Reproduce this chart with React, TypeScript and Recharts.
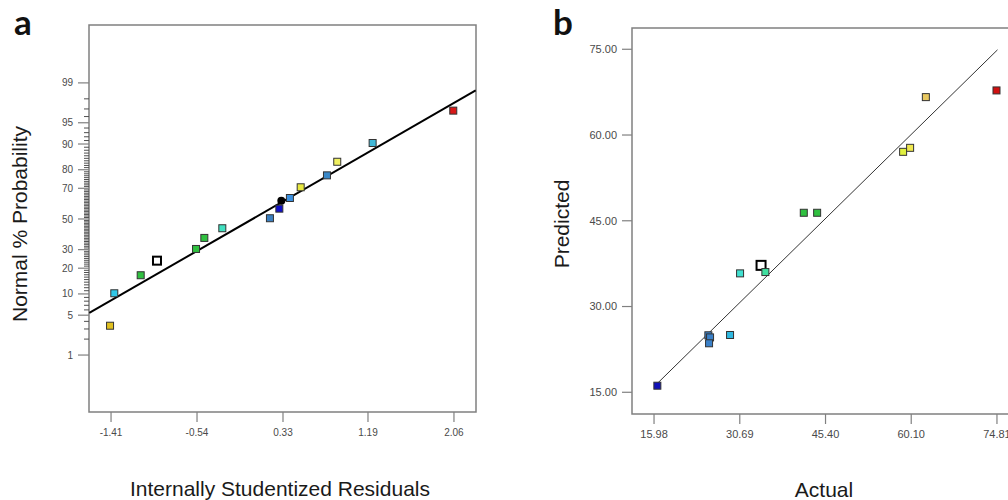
import React from "react";
import {
  ScatterChart,
  Scatter,
  XAxis,
  YAxis,
  ReferenceArea,
  ReferenceLine,
} from "recharts";

// panel a: normal probability plot of the residuals
const residuals = [-1.42, -1.377, -1.11, -0.945, -0.55, -0.466, -0.284, 0.198, 0.293, 0.313, 0.4, 0.509, 0.775, 0.879, 1.237, 2.053];
const normalProb = [3.4, 10.2, 16.8, 23.8, 30.4, 37.3, 43.7, 50.5, 57.0, 62.3, 64.0, 70.6, 77.2, 83.6, 90.3, 96.8];
const residualTicks = [-1.41, -0.54, 0.33, 1.19, 2.06];
const probTicks = [1, 5, 10, 20, 30, 50, 70, 80, 90, 95, 99];
const fitResidual = [-1.63, 2.28];
const fitProb = [5.4, 98.6];

// panel b: predicted vs actual
const actual = [16.55, 25.3, 25.59, 25.42, 29.02, 30.74, 34.34, 35.08, 41.67, 43.96, 58.71, 59.91, 62.61, 74.73];
const predicted = [16.15, 24.97, 24.6, 23.57, 25.02, 35.8, 37.2, 36.03, 46.4, 46.4, 57.06, 57.76, 66.63, 67.8];
const actualTicks = [15.98, 30.69, 45.4, 60.1, 74.81];
const predictedTicks = [15, 30, 45, 60, 75];
const parityLine = [16.4, 74.9];

// marker colours ("open" = hollow square, "dot" = black circle)
const colorsA = ["#E0C020", "#30C8E8", "#30C040", "open", "#30C040", "#30C040", "#40E0C0", "#3A7FC0", "#1010C8", "dot", "#3A90E0", "#E8E840", "#3A88C8", "#F0F060", "#40B8D8", "#D81818"];
const colorsB = ["#1010B8", "#3A80C8", "#3A80C8", "#3A80C8", "#30B8E0", "#40E0D0", "open", "#40E0A0", "#30C040", "#30C040", "#E0F040", "#F0E850", "#E8C860", "#D01010"];

// inverse normal cdf (Acklam)
function probit(p: number): number {
  const a = [-39.69683028665376, 220.9460984245205, -275.9285104469687, 138.357751867269, -30.66479806614716, 2.506628277459239];
  const b = [-54.47609879822406, 161.5858368580409, -155.6989798598866, 66.80131188771972, -13.28068155288572];
  const c = [-0.007784894002430293, -0.3223964580411365, -2.400758277161838, -2.549732539343734, 4.374664141464968, 2.938163982698783];
  const d = [0.007784695709041462, 0.3224671290700398, 2.445134137142996, 3.754408661907416];
  const pl = 0.02425;
  if (p < pl) {
    const q = Math.sqrt(-2 * Math.log(p));
    return (((((c[0] * q + c[1]) * q + c[2]) * q + c[3]) * q + c[4]) * q + c[5]) / ((((d[0] * q + d[1]) * q + d[2]) * q + d[3]) * q + 1);
  }
  if (p > 1 - pl) {
    const q = Math.sqrt(-2 * Math.log(1 - p));
    return -(((((c[0] * q + c[1]) * q + c[2]) * q + c[3]) * q + c[4]) * q + c[5]) / ((((d[0] * q + d[1]) * q + d[2]) * q + d[3]) * q + 1);
  }
  const q = p - 0.5;
  const r = q * q;
  return ((((((a[0] * r + a[1]) * r + a[2]) * r + a[3]) * r + a[4]) * r + a[5]) * q) / (((((b[0] * r + b[1]) * r + b[2]) * r + b[3]) * r + b[4]) * r + 1);
}

const xDomainA = [-1.633, 2.283];
const zDomain = [-3.3, 3.316];
const xDomainB = [12.2, 78.59];
const yDomainB = [11.2, 78.72];

const dataA = residuals.map((r, i) => ({ x: r, y: probit(normalProb[i] / 100), color: colorsA[i] }));
const dataB = actual.map((v, i) => ({ x: v, y: predicted[i], color: colorsB[i] }));

// labelled ticks, plus a short tick at every other whole percent (drawn on the left frame)
const majorZ = probTicks.map((p) => probit(p / 100));
const minorTicks: { x: number; y: number }[] = [];
for (let p = 2; p <= 98; p++) {
  if (!probTicks.includes(p)) minorTicks.push({ x: xDomainA[0], y: probit(p / 100) });
}

const FONT = "'Liberation Sans', Arial, sans-serif";
const AXIS_GRAY = "#808080";
const tickLine = { stroke: AXIS_GRAY, strokeWidth: 1.2 };

const probLabel = (v: number) => {
  const i = majorZ.findIndex((z) => Math.abs(z - v) < 1e-6);
  return i >= 0 ? String(probTicks[i]) : "";
};

const MinorTick = (props: any) => {
  const { cx, cy } = props;
  if (cx == null || cy == null) return <g />;
  return <line x1={cx - 5} x2={cx} y1={cy} y2={cy} stroke="#505050" strokeWidth={1} />;
};

const makeMarker = (sq: number, open: number) => (props: any) => {
  const { cx, cy, payload } = props;
  if (cx == null || cy == null) return <g />;
  if (payload.color === "dot") return <circle cx={cx} cy={cy} r={4} fill="#000" />;
  if (payload.color === "open")
    return <rect x={cx - open / 2} y={cy - open / 2} width={open} height={open} fill="#fff" stroke="#000" strokeWidth={2} />;
  return <rect x={cx - sq / 2} y={cy - sq / 2} width={sq} height={sq} fill={payload.color} stroke="#333" strokeWidth={1} />;
};

const App: React.FC = () => {
  return (
    <div style={{ position: "fixed", left: 0, top: 0, width: 1008, height: 500, overflow: "hidden", background: "#fff" }}>
      {/* a: normal plot of residuals */}
      <div style={{ position: "absolute", left: 0, top: 0 }}>
        <ScatterChart width={500} height={500} margin={{ top: 25, right: 24, bottom: 0, left: 0 }}>
          <XAxis
            type="number"
            dataKey="x"
            domain={xDomainA}
            ticks={residualTicks}
            interval={0}
            tickFormatter={(v: number) => v.toFixed(2)}
            height={88}
            axisLine={false}
            tickLine={tickLine}
            tickSize={10}
            tickMargin={7}
            tick={{ fontSize: 10, fill: "#4a4a4a", fontFamily: FONT }}
          />
          <YAxis
            type="number"
            dataKey="y"
            domain={zDomain}
            ticks={majorZ}
            interval={0}
            width={89}
            axisLine={false}
            tickSize={11}
            tickMargin={5}
            tickLine={tickLine}
            tickFormatter={probLabel}
            tick={{ fontSize: 10, fill: "#4a4a4a", fontFamily: FONT }}
          />
          <ReferenceArea
            x1={xDomainA[0]}
            x2={xDomainA[1]}
            y1={zDomain[0]}
            y2={zDomain[1]}
            fill="none"
            stroke={AXIS_GRAY}
            strokeWidth={1.5}
            ifOverflow="visible"
          />
          <ReferenceLine
            segment={[
              { x: fitResidual[0], y: probit(fitProb[0] / 100) },
              { x: fitResidual[1], y: probit(fitProb[1] / 100) },
            ]}
            stroke="#000"
            strokeWidth={2}
            ifOverflow="visible"
          />
          <Scatter data={minorTicks} shape={<MinorTick />} isAnimationActive={false} />
          <Scatter data={dataA} shape={makeMarker(7, 8)} isAnimationActive={false} />
        </ScatterChart>
      </div>

      {/* b: predicted vs actual */}
      <div style={{ position: "absolute", left: 540, top: 0 }}>
        <ScatterChart width={500} height={500} margin={{ top: 28, right: 21, bottom: 0, left: 0 }}>
          <XAxis
            type="number"
            dataKey="x"
            domain={xDomainB}
            allowDataOverflow
            ticks={actualTicks}
            interval={0}
            tickFormatter={(v: number) => v.toFixed(2)}
            height={86}
            axisLine={false}
            tickLine={tickLine}
            tickSize={10}
            tickMargin={6}
            tick={{ fontSize: 11, fill: "#4a4a4a", fontFamily: FONT }}
          />
          <YAxis
            type="number"
            dataKey="y"
            domain={yDomainB}
            allowDataOverflow
            ticks={predictedTicks}
            interval={0}
            width={92}
            axisLine={false}
            tickSize={10}
            tickMargin={5}
            tickLine={tickLine}
            tickFormatter={(v: number) => v.toFixed(2)}
            tick={{ fontSize: 11, fill: "#4a4a4a", fontFamily: FONT }}
          />
          <ReferenceArea
            x1={xDomainB[0]}
            x2={xDomainB[1]}
            y1={yDomainB[0]}
            y2={yDomainB[1]}
            fill="none"
            stroke={AXIS_GRAY}
            strokeWidth={1.5}
            ifOverflow="visible"
          />
          <ReferenceLine
            segment={[
              { x: parityLine[0], y: parityLine[0] },
              { x: parityLine[1], y: parityLine[1] },
            ]}
            stroke="#333"
            strokeWidth={1}
            ifOverflow="visible"
          />
          <Scatter data={dataB} shape={makeMarker(7, 9)} isAnimationActive={false} />
        </ScatterChart>
      </div>

      {/* panel letters and axis titles */}
      <svg width={1008} height={500} style={{ position: "absolute", left: 0, top: 0, pointerEvents: "none" }}>
        <text x={14} y={35} fontSize={35} fontWeight="bold" fontFamily="Lato, 'Open Sans', sans-serif" fill="#111">a</text>
        <text x={553} y={35} fontSize={35} fontWeight="bold" fontFamily="Lato, 'Open Sans', sans-serif" fill="#111">b</text>
        <text transform="translate(27,224) rotate(-90)" textAnchor="middle" fontSize={21} fontFamily={FONT} fill="#1a1a1a">
          Normal % Probability
        </text>
        <text x={280} y={496} textAnchor="middle" fontSize={21} fontFamily={FONT} fill="#1a1a1a">
          Internally Studentized Residuals
        </text>
        <text transform="translate(569,224) rotate(-90)" textAnchor="middle" fontSize={21} fontFamily={FONT} fill="#1a1a1a">
          Predicted
        </text>
        <text x={824} y={497} textAnchor="middle" fontSize={21} fontFamily={FONT} fill="#1a1a1a">
          Actual
        </text>
      </svg>
    </div>
  );
};

export default App;
